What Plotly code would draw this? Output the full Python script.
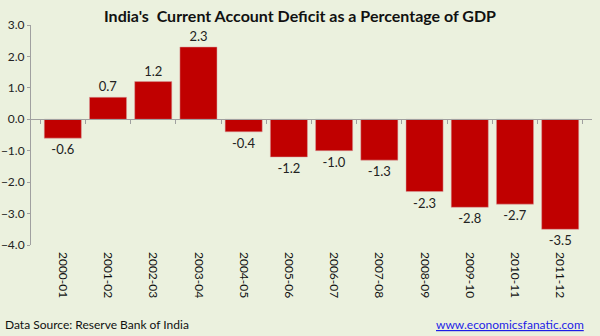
import plotly.graph_objects as go

years = ["2000-01", "2001-02", "2002-03", "2003-04", "2004-05", "2005-06",
         "2006-07", "2007-08", "2008-09", "2009-10", "2010-11", "2011-12"]
cad = [-0.6, 0.7, 1.2, 2.3, -0.4, -1.2, -1.0, -1.3, -2.3, -2.8, -2.7, -3.5]
y_ticks = [3.0, 2.0, 1.0, 0.0, -1.0, -2.0, -3.0, -4.0]

FONT = "Lato"
BG = "#EBF1DE"
y_min, y_max = -4.0, 3.0

fig = go.Figure()
fig.add_trace(go.Bar(
    x=years, y=cad,
    marker=dict(color="#C00000", line=dict(color="#D8A0A0", width=0.5)),
    text=[f"{v:.1f}" for v in cad],
    textposition="outside",
    textfont=dict(family=FONT, size=13, color="#222222"),
    cliponaxis=False,
    showlegend=False,
    hoverinfo="skip",
))
# invisible trace to bind the zero-line axis
fig.add_trace(go.Scatter(x=years, y=[0] * len(years), xaxis="x2", mode="markers",
                         marker=dict(opacity=0), showlegend=False, hoverinfo="skip"))

fig.update_layout(
    width=600, height=336,
    paper_bgcolor=BG, plot_bgcolor=BG,
    margin=dict(l=31, r=8, t=25, b=91),
    bargap=0.18,
    title=dict(text="<b>India's  Current Account Deficit as a Percentage of GDP</b>",
               x=0.5, xanchor="center", y=0.95, yanchor="middle",
               font=dict(family=FONT, size=16, color="#111111")),
    font=dict(family=FONT),
    xaxis=dict(
        type="category", showline=False, showgrid=False, zeroline=False,
        tickangle=90, ticks="", automargin=False, ticklabelstandoff=6,
        tickfont=dict(family=FONT, size=12, color="#111111"),
    ),
    xaxis2=dict(
        type="category", overlaying="x", matches="x", anchor="free",
        position=(0 - y_min) / (y_max - y_min),
        showline=True, linecolor="#A0A0A0", linewidth=1,
        ticks="outside", tickson="boundaries", ticklen=4, tickcolor="#A0A0A0",
        showticklabels=False, showgrid=False, zeroline=False,
    ),
    yaxis=dict(
        range=[y_min, y_max], tickvals=y_ticks, tickformat=".1f",
        showline=True, linecolor="#A0A0A0", linewidth=1,
        ticks="outside", ticklen=3, tickcolor="#A0A0A0",
        showgrid=False, zeroline=False, automargin=False,
        tickfont=dict(family=FONT, size=12, color="#222222"),
    ),
    annotations=[
        dict(text="Data Source: Reserve Bank of India", xref="paper", yref="paper",
             x=-0.05, y=-0.36, xanchor="left", yanchor="middle", showarrow=False,
             font=dict(family=FONT, size=12, color="#111111")),
        dict(text="<u>www.economicsfanatic.com</u>", xref="paper", yref="paper",
             x=0.99, y=-0.36, xanchor="right", yanchor="middle", showarrow=False,
             font=dict(family=FONT, size=12, color="#1E1EE6")),
    ],
)

fig.write_html("out.html")
